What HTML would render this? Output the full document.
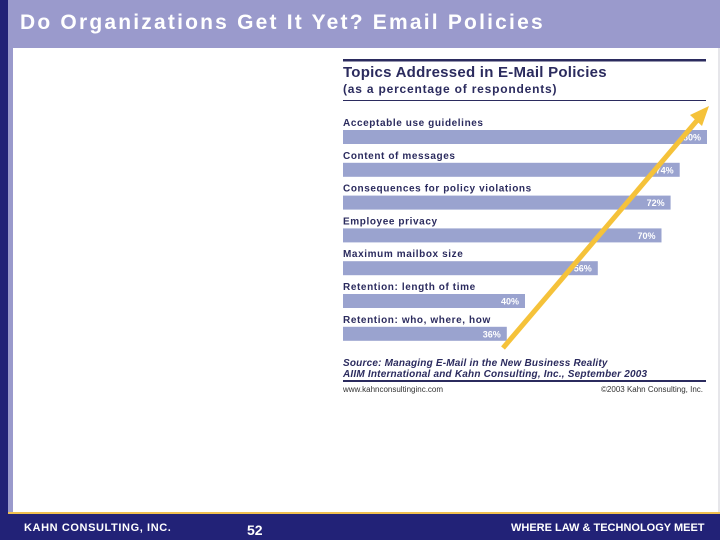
<!DOCTYPE html>
<html><head><meta charset="utf-8"><style>
body{margin:0;width:720px;height:540px;overflow:hidden;background:#fff;font-family:"Liberation Sans",sans-serif;position:relative}
.abs{position:absolute}
</style></head><body>
<div class="abs" style="left:0;top:0;width:8px;height:540px;background:#222277"></div>
<div class="abs" style="left:8px;top:0;width:712px;height:48px;background:#9a9acc"></div>
<div class="abs" style="left:8px;top:48px;width:5px;height:466px;background:#9a9acc"></div>
<div class="abs" style="left:718px;top:48px;width:2px;height:466px;background:#e6e6ea"></div>
<div class="abs" style="left:20px;top:11px;font-size:21px;font-weight:bold;color:#fff;letter-spacing:2.2px">Do Organizations Get It Yet? Email Policies</div>
<div class="abs" style="left:8px;top:512px;width:712px;height:2px;background:#f0c050"></div>
<div class="abs" style="left:0;top:514px;width:720px;height:26px;background:#222277"></div>
<div class="abs" style="left:24px;top:522px;font-size:11px;font-weight:bold;color:#fff;letter-spacing:0.6px">KAHN CONSULTING, INC.</div>
<div class="abs" style="left:247px;top:522px;font-size:14px;font-weight:bold;color:#fff">52</div>
<div class="abs" style="left:511px;top:522px;font-size:11px;font-weight:bold;color:#fff">WHERE LAW &amp; TECHNOLOGY MEET</div>

<svg class="abs" style="left:0;top:0" width="720" height="540" id="chart">
<rect x="343" y="59" width="363" height="2.5" fill="#2b2b5e"/>
<text x="343" y="77" font-size="15" font-weight="bold" fill="#2b2b5e" letter-spacing="0.25">Topics Addressed in E-Mail Policies</text>
<text x="343" y="93" font-size="12" font-weight="bold" fill="#2b2b5e" letter-spacing="0.8">(as a percentage of respondents)</text>
<rect x="343" y="100" width="363" height="1" fill="#2b2b5e"/>
<g id="bars"></g>
<text x="343" y="366" font-size="10" font-weight="bold" font-style="italic" fill="#2b2b5e" letter-spacing="0.2">Source: Managing E-Mail in the New Business Reality</text>
<text x="343" y="377" font-size="10" font-weight="bold" font-style="italic" fill="#2b2b5e" letter-spacing="0.2">AIIM International and Kahn Consulting, Inc., September 2003</text>
<rect x="343" y="380" width="363" height="2" fill="#2b2b5e"/>
<text x="343" y="392" font-size="8" fill="#333">www.kahnconsultinginc.com</text>
<text x="703" y="392" font-size="8" fill="#333" text-anchor="end">©2003 Kahn Consulting, Inc.</text>
<g>
<line x1="503" y1="348" x2="700" y2="117" stroke="#f5c23a" stroke-width="5"/>
<polygon points="709,106 690,115 702,126" fill="#f5c23a"/>
</g>
</svg>
<script>
const categories=["Acceptable use guidelines","Content of messages","Consequences for policy violations","Employee privacy","Maximum mailbox size","Retention: length of time","Retention: who, where, how"];
const values=[80,74,72,70,56,40,36];
const valueLabels=["80%","74%","72%","70%","56%","40%","36%"];
const x0=343, pxPer=364/80, rowTop=130, rowGap=32.8, barH=14;
const xs=v=>x0+v*pxPer;
const ys=i=>rowTop+i*rowGap;
const g=document.getElementById('bars');
const NS="http://www.w3.org/2000/svg";
categories.forEach((c,i)=>{
  const lab=document.createElementNS(NS,'text');
  
  
  lab.setAttribute('x',x0);lab.setAttribute('y',ys(i)-4);
  lab.setAttribute('font-size','10');lab.setAttribute('letter-spacing','0.6');lab.setAttribute('font-weight','bold');lab.setAttribute('fill','#2b2b5e');
  lab.textContent=c;g.appendChild(lab);
  const r=document.createElementNS(NS,'rect');
  
  
  r.setAttribute('x',x0);r.setAttribute('y',ys(i));r.setAttribute('width',xs(values[i])-x0);r.setAttribute('height',barH);
  r.setAttribute('fill','#9aa3cf');g.appendChild(r);
  const t=document.createElementNS(NS,'text');
  
  
  t.setAttribute('x',xs(values[i])-6);t.setAttribute('y',ys(i)+10.5);
  t.setAttribute('text-anchor','end');t.setAttribute('font-size','9');t.setAttribute('font-weight','bold');t.setAttribute('fill','#fff');
  t.textContent=valueLabels[i];g.appendChild(t);
});
</script>
</body></html>
